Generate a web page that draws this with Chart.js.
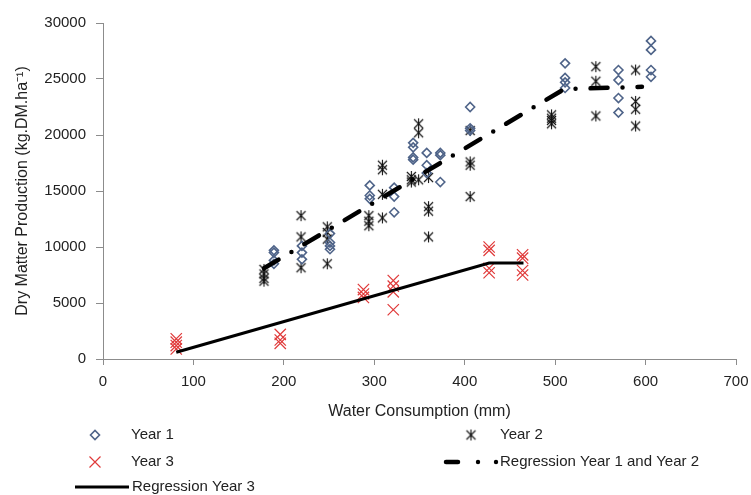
<!DOCTYPE html>
<html>
<head>
<meta charset="utf-8">
<script src="https://cdn.jsdelivr.net/npm/chart.js@4.4.0/dist/chart.umd.min.js"></script>
<style>
  body { margin: 0; background: #fff; }
  #chartContainer { width: 751px; height: 495px; }
</style>
</head>
<body>
<div id="chartContainer"><canvas id="waterChart" width="751" height="495"></canvas></div>
<script>
// Ticks
const xTicks = [0, 100, 200, 300, 400, 500, 600, 700];
const yTicks = [0, 5000, 10000, 15000, 20000, 25000, 30000];

// Year 1 [water consumption, dry matter]
const year1 = [
    [189, 9700], [189, 9500], [189, 8800], [189, 8500],
    [220, 10100], [220, 9500], [220, 8900],
    [251, 11200], [251, 10400], [251, 10100], [251, 9800],
    [295, 15500], [295, 14600], [295, 14300],
    [322, 15300], [322, 14500], [322, 13100],
    [343, 19300], [343, 18900], [343, 18000], [343, 17800],
    [358, 18400], [358, 17300], [358, 16600],
    [373, 18400], [373, 18200], [373, 15800],
    [406, 22500], [406, 20600], [406, 20400],
    [511, 26400], [511, 25100], [511, 24700], [511, 24200],
    [570, 25800], [570, 24900], [570, 23300], [570, 22000],
    [606, 28400], [606, 27600], [606, 25800], [606, 25200]
];

// Year 2
const year2 = [
    [178, 8000], [178, 7600], [178, 7200], [178, 6950],
    [219, 12800], [219, 10900], [219, 8150],
    [248, 11800], [248, 11300], [248, 10700], [248, 8500],
    [294, 12800], [294, 12300], [294, 11900],
    [309, 17300], [309, 16900], [309, 14700], [309, 12600],
    [341, 16300], [341, 16000], [341, 15800],
    [349, 21000], [349, 20200], [349, 16000],
    [360, 16200], [360, 13600], [360, 13200], [360, 10900],
    [406, 20400], [406, 17600], [406, 17300], [406, 14500],
    [496, 21800], [496, 21500], [496, 21300], [496, 21000],
    [545, 26100], [545, 24800], [545, 21700],
    [589, 25800], [589, 23000], [589, 22300], [589, 20800]
];

// Year 3
const year3 = [
    [81, 1800], [81, 1500], [81, 1200], [81, 900],
    [196, 2200], [196, 1700], [196, 1400],
    [288, 6200], [288, 5800], [288, 5500],
    [321, 7000], [321, 6500], [321, 6000], [321, 4400],
    [427, 10000], [427, 9700], [427, 8100], [427, 7700],
    [464, 9300], [464, 9000], [464, 7900], [464, 7500]
];

// Regression lines
const regression12 = [[178, 8100], [510, 24100], [596, 24300]];
const regression3 = [[81, 600], [427, 8570], [465, 8570]];

const legendLabels = ["Year 1", "Year 2", "Year 3", "Regression Year 1 and Year 2", "Regression Year 3"];

const toPoints = arr => arr.map(p => ({ x: p[0], y: p[1] }));

const blue = "#4F6489";
const red = "#E03A3A";
const fontFamily = "'Liberation Sans', Arial, sans-serif";

// six-armed star like the reference marker
function makeStar(r, color) {
    const c = document.createElement("canvas");
    const s = Math.ceil(r * 2 + 2);
    c.width = s;
    c.height = s;
    const g = c.getContext("2d");
    const m = s / 2;
    const d = r * 0.82;
    g.strokeStyle = color;
    g.lineWidth = 1.1;
    g.beginPath();
    g.moveTo(m - d, m - d); g.lineTo(m + d, m + d);
    g.moveTo(m + d, m - d); g.lineTo(m - d, m + d);
    g.moveTo(m, m - r); g.lineTo(m, m + r);
    g.stroke();
    return c;
}
const starMarker = makeStar(5.5, "#111");

// Legend drawn at fixed spots, like the original
const legendPlugin = {
    id: "fixedLegend",
    afterDraw(chart) {
        const ctx = chart.ctx;
        ctx.save();
        ctx.font = "15px " + fontFamily;
        ctx.fillStyle = "#222";
        ctx.textBaseline = "middle";

        const rows = [
            { mx: 95, tx: 131, y: 435, kind: "diamond", text: legendLabels[0] },
            { mx: 471, tx: 500, y: 435, kind: "star", text: legendLabels[1] },
            { mx: 95, tx: 131, y: 462, kind: "cross", text: legendLabels[2] },
            { mx: 446, tx: 500, y: 462, kind: "dashdot", text: legendLabels[3] },
            { mx: 75, tx: 132, y: 487, kind: "solid", text: legendLabels[4] }
        ];

        rows.forEach(r => {
            ctx.save();
            if (r.kind === "diamond") {
                ctx.strokeStyle = blue;
                ctx.lineWidth = 1.6;
                ctx.beginPath();
                ctx.moveTo(r.mx - 4.5, r.y);
                ctx.lineTo(r.mx, r.y - 4.5);
                ctx.lineTo(r.mx + 4.5, r.y);
                ctx.lineTo(r.mx, r.y + 4.5);
                ctx.closePath();
                ctx.stroke();
            } else if (r.kind === "star") {
                ctx.drawImage(starMarker, r.mx - starMarker.width / 2, r.y - starMarker.height / 2);
            } else if (r.kind === "cross") {
                ctx.strokeStyle = red;
                ctx.lineWidth = 1.2;
                ctx.beginPath();
                ctx.moveTo(r.mx - 5.5, r.y - 5.5); ctx.lineTo(r.mx + 5.5, r.y + 5.5);
                ctx.moveTo(r.mx + 5.5, r.y - 5.5); ctx.lineTo(r.mx - 5.5, r.y + 5.5);
                ctx.stroke();
            } else if (r.kind === "dashdot") {
                ctx.strokeStyle = "#000";
                ctx.lineCap = "round";
                ctx.lineWidth = 4.5;
                ctx.beginPath();
                ctx.moveTo(r.mx, r.y); ctx.lineTo(r.mx + 12, r.y);
                ctx.stroke();
                ctx.fillStyle = "#000";
                [478, 496].forEach(dx => {
                    ctx.beginPath();
                    ctx.arc(dx, r.y, 2.2, 0, Math.PI * 2);
                    ctx.fill();
                });
            } else if (r.kind === "solid") {
                ctx.strokeStyle = "#000";
                ctx.lineWidth = 3;
                ctx.beginPath();
                ctx.moveTo(r.mx, r.y); ctx.lineTo(r.mx + 54, r.y);
                ctx.stroke();
            }
            ctx.restore();
            ctx.fillText(r.text, r.tx, r.y);
        });
        ctx.restore();
    }
};

const data = {
    datasets: [
        {
            label: legendLabels[3],
            type: "line",
            data: toPoints(regression12),
            borderColor: "#000",
            borderWidth: 4.5,
            borderDash: [17, 15, 0, 15],
            borderCapStyle: "round",
            pointRadius: 0,
            fill: false,
            order: 0
        },
        {
            label: legendLabels[4],
            type: "line",
            data: toPoints(regression3),
            borderColor: "#000",
            borderWidth: 3,
            pointRadius: 0,
            fill: false,
            order: 0
        },
        {
            label: legendLabels[0],
            data: toPoints(year1),
            pointStyle: "rectRot",
            pointRadius: 4.5,
            pointBorderWidth: 1.6,
            borderColor: blue,
            backgroundColor: "rgba(255,255,255,0)",
            order: 1
        },
        {
            label: legendLabels[1],
            data: toPoints(year2),
            pointStyle: starMarker,
            pointRadius: 5.5,
            borderColor: "#111",
            backgroundColor: "#111",
            order: 1
        },
        {
            label: legendLabels[2],
            data: toPoints(year3),
            pointStyle: "crossRot",
            pointRadius: 8,
            pointBorderWidth: 1.2,
            borderColor: red,
            backgroundColor: red,
            order: 1
        }
    ]
};

const options = {
    responsive: false,
    animation: false,
    events: [],
    layout: { padding: { left: 0, right: 15, top: 23, bottom: 74 } },
    plugins: {
        legend: { display: false },
        tooltip: { enabled: false }
    },
    scales: {
        x: {
            type: "linear",
            min: xTicks[0],
            max: xTicks[xTicks.length - 1],
            afterBuildTicks: scale => { scale.ticks = xTicks.map(v => ({ value: v })); },
            afterFit: scale => {
                scale.height = 62;
                scale.paddingRight = 0;
                scale.paddingLeft = 0;
            },
            grid: { drawOnChartArea: false, drawTicks: true, tickLength: 6, color: "#8c8c8c" },
            border: { color: "#8c8c8c" },
            ticks: {
                color: "#222",
                padding: 8,
                font: { family: fontFamily, size: 15 },
                maxRotation: 0,
                callback: value => String(value)
            },
            title: {
                display: true,
                text: "Water Consumption (mm)",
                color: "#222",
                padding: { top: 0, bottom: 0 },
                font: { family: fontFamily, size: 16 }
            }
        },
        y: {
            type: "linear",
            min: yTicks[0],
            max: yTicks[yTicks.length - 1],
            afterBuildTicks: scale => { scale.ticks = yTicks.map(v => ({ value: v })); },
            afterFit: scale => { scale.width = 103; },
            grid: { drawOnChartArea: false, drawTicks: true, tickLength: 7, color: "#8c8c8c" },
            border: { color: "#8c8c8c" },
            ticks: {
                color: "#222",
                padding: 10,
                font: { family: fontFamily, size: 15 },
                callback: value => String(value)
            },
            title: {
                display: true,
                text: "Dry Matter Production (kg.DM.ha\u207B\u00B9)",
                color: "#222",
                padding: { top: 13, bottom: 0 },
                font: { family: fontFamily, size: 16 }
            }
        }
    }
};

const ctx = document.getElementById("waterChart").getContext("2d");
new Chart(ctx, {
    type: "scatter",
    data: data,
    options: options,
    plugins: [legendPlugin]
});
</script>
</body>
</html>
